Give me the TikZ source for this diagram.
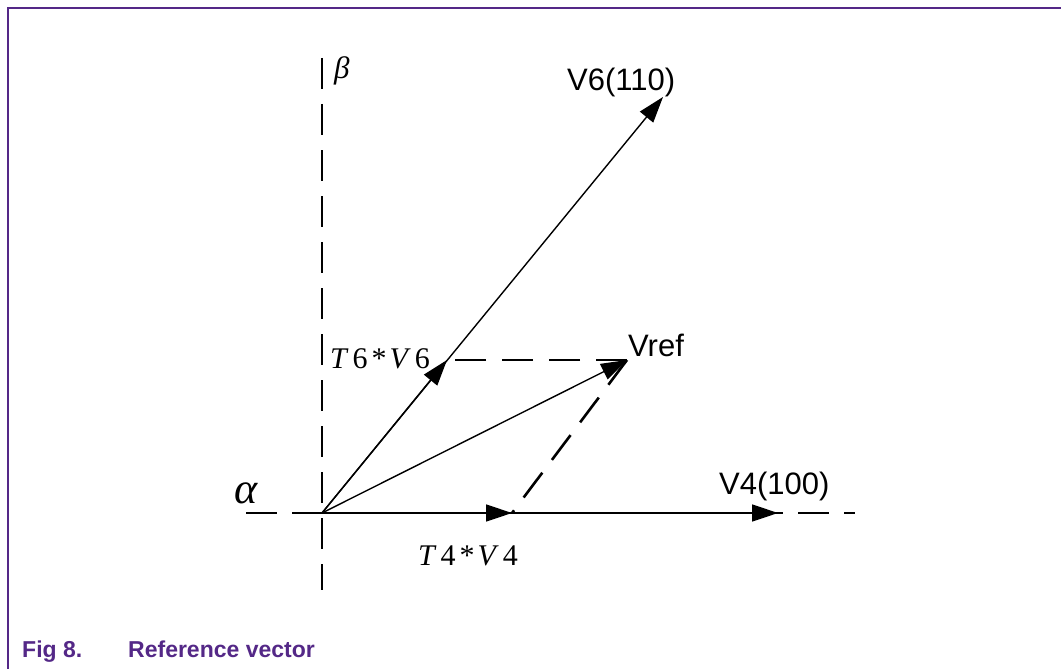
\documentclass[tikz,border=0pt]{standalone}
\usepackage{fontspec}
\setmainfont{Liberation Serif}
\setsansfont{Liberation Sans}
\usetikzlibrary{arrows.meta}
\definecolor{nxpurple}{RGB}{84,40,135}
\tikzset{
  vec/.style={line width=1.4pt,-{Triangle[length=26pt,width=17pt]}},
  axisline/.style={line width=2.6pt,dash pattern=on 31pt off 15pt},
  guide/.style={line width=2.6pt,dash pattern=on 31pt off 16pt},
  lab/.style={font=\sffamily\fontsize{31}{33}\selectfont,anchor=base west,inner sep=0pt},
  ilab/.style={font=\rmfamily\fontsize{30}{32}\selectfont,anchor=base west,inner sep=0pt},
  glab/.style={font=\rmfamily\itshape,anchor=base west,inner sep=0pt},
  framebox/.style={draw=nxpurple,line width=1.3pt},
  captext/.style={font=\sffamily\bfseries\fontsize{23}{26}\selectfont,text=nxpurple,anchor=base west,inner sep=0pt}
}
\begin{document}
\begin{tikzpicture}[x=1pt,y=-1pt]
\useasboundingbox (0,0) rectangle (1061,669);
\draw[framebox] (8,669) -- (8,8) -- (1061,8);
% coordinates
\coordinate (O) at (322,513);
\coordinate (bt) at (322,58);
\coordinate (bb) at (322,590);
\coordinate (al) at (246,513);
\coordinate (ar) at (855,513);
\coordinate (V6) at (663,97);
\coordinate (V4) at (778,513);
\coordinate (T6) at (447,360);
\coordinate (T4) at (512,513);
\coordinate (Vr) at (627,360);
% axes
\draw[axisline] (bt) -- (bb);
\draw[axisline] (al) -- (ar);
% guides
\draw[guide] (Vr) -- (T6);
\draw[guide] (Vr) -- (T4);
% vectors
\draw[vec] (O) -- (V6);
\draw[vec] (O) -- (T6);
\draw[vec] (O) -- (Vr);
\draw[vec] (O) -- (V4);
\draw[vec] (O) -- (T4);
% labels
\node[lab] (lV6) at (567,91) {V6(110)};
\node[lab] (lVr) at (628,356) {Vref};
\node[lab] (lV4) at (719,494) {V4(100)};
\node[ilab] (lT6) at (330,368) {\textit{T}\kern4pt6\kern4pt*\kern3pt\textit{V}\kern4pt6};
\node[ilab] (lT4) at (418,565) {\textit{T}\kern4pt4\kern4pt*\kern3pt\textit{V}\kern4pt4};
\node[glab,font=\rmfamily\itshape\fontsize{44}{46}\selectfont] (la) at (234,503) {α};
\node[glab,font=\rmfamily\itshape\fontsize{31}{33}\selectfont] (lb) at (334,78) {β};
% caption
\node[captext] (c1) at (22,657) {Fig 8.};
\node[captext] (c2) at (128,657) {Reference vector};
\end{tikzpicture}
\end{document}
